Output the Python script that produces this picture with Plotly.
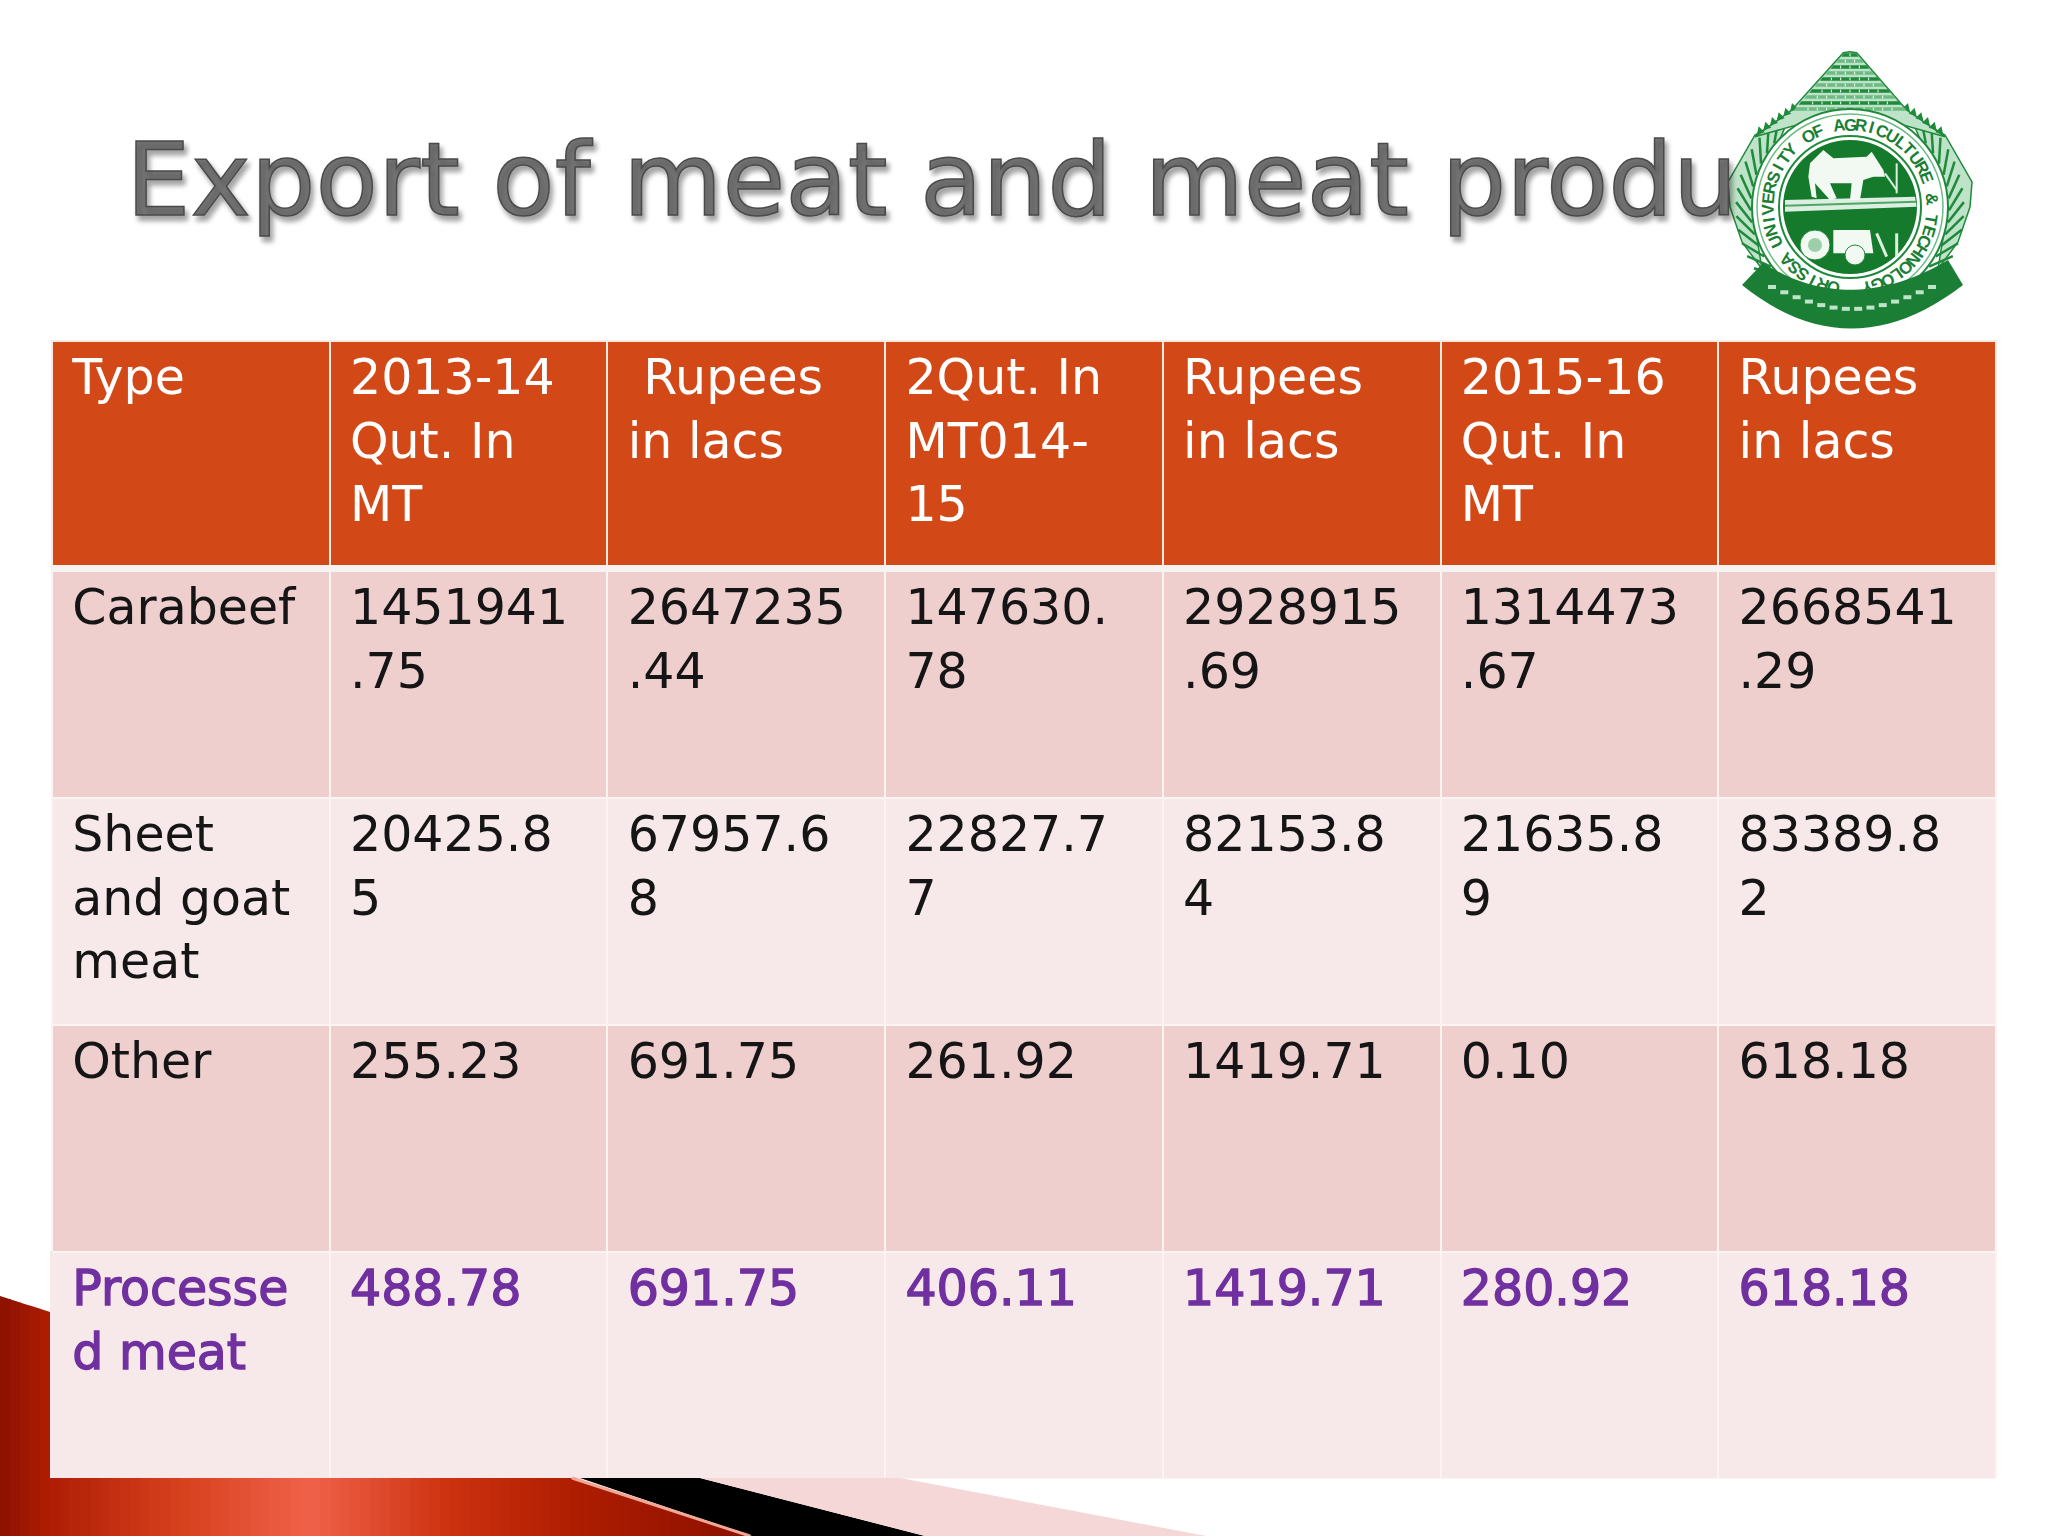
import math
import plotly.graph_objects as go

# ---------- data ----------
title_text = "Export of meat and meat produ"
header_labels = ["Type", "2013-14<br>Qut. In<br>MT", "&nbsp;Rupees<br>in lacs", "2Qut. In<br>MT014-<br>15",
                 "Rupees<br>in lacs", "2015-16<br>Qut. In<br>MT", "Rupees<br>in lacs"]
categories = ["Carabeef", "Sheet<br>and goat<br>meat", "Other", "Processe<br>d meat"]
qty_2013 = ["1451941.75", "20425.85", "255.23", "488.78"]
rs_2013 = ["2647235.44", "67957.68", "691.75", "691.75"]
qty_2014 = ["147630.78", "22827.77", "261.92", "406.11"]
rs_2014 = ["2928915.69", "82153.84", "1419.71", "1419.71"]
qty_2015 = ["1314473.67", "21635.89", "0.10", "280.92"]
rs_2015 = ["2668541.29", "83389.82", "618.18", "618.18"]
logo_ring_text = "ORISSA UNIVERSITY OF AGRICULTURE & TECHNOLOGY"

W, H = 2048, 1536
FONT = "DejaVu Sans"
ORANGE = "#D34817"
BAND1, BAND2 = "#EFCFCE", "#F7E9E9"
PURPLE = "#7030A0"
INK = "#151515"
LG = "#1F8A3B"
LL = "#BFE3C8"


def px(x):
    return x / W


def py(y):
    return 1 - y / H


def poly(pts, fill, line=None, lw=0):
    d = "M" + " L".join(f"{px(x):.5f},{py(y):.5f}" for x, y in pts) + " Z"
    s = dict(type="path", xref="paper", yref="paper", path=d, fillcolor=fill, layer="above",
             line=dict(width=lw, color=line or fill))
    return s


def circle(cx, cy, r, fill="rgba(0,0,0,0)", line=None, lw=0):
    return dict(type="circle", xref="paper", yref="paper", x0=px(cx - r), x1=px(cx + r),
                y0=py(cy + r), y1=py(cy - r), fillcolor=fill, layer="above",
                line=dict(width=lw, color=line or fill))


def seg(x0, y0, x1, y1, color, lw):
    return dict(type="line", xref="paper", yref="paper", x0=px(x0), x1=px(x1), y0=py(y0), y1=py(y1),
                layer="above", line=dict(width=lw, color=color))


def lerp_color(stops, x):
    for (a, ca), (b, cb) in zip(stops, stops[1:]):
        if a <= x <= b:
            t = (x - a) / (b - a)
            return "rgb(%d,%d,%d)" % tuple(ca[i] + (cb[i] - ca[i]) * t for i in range(3))
    return "rgb(%d,%d,%d)" % stops[-1][1]


shapes = []

# ---------- corner decoration ----------
TABLE_BOTTOM = 1478
stops = [(0, (140, 16, 0)), (50, (175, 30, 4)), (180, (215, 65, 30)), (310, (240, 98, 74)),
         (450, (205, 50, 15)), (572, (175, 30, 2)), (750, (140, 16, 0))]


def top_edge(x):
    if x <= 572:
        return TABLE_BOTTOM
    return TABLE_BOTTOM + (x - 572) * 58 / 178


step = 10
for x in range(0, 750, step):
    x1 = min(x + step + 1, 750)
    top0, top1 = top_edge(x), top_edge(x1)
    if x + step <= 50:
        x1 = x + step + (0 if x + step == 50 else 1)
        top0, top1 = 1296 + x / 50 * 16, 1296 + x1 / 50 * 16
    shapes.append(poly([(x, top0), (x1, top1), (x1, H), (x, H)], lerp_color(stops, x + step / 2)))
shapes.append(poly([(580, 1478), (700, 1478), (925, 1536), (752, 1536)], "#000000"))
shapes.append(poly([(700, 1478), (900, 1478), (1206, 1536), (925, 1536)], "#F4D7D6"))
shapes.append(seg(572, 1478, 750, 1536, "#F0A795", 3))

# ---------- table fine details ----------
shapes.append(dict(type="rect", xref="paper", yref="paper", x0=px(52), x1=px(1996), y0=py(572), y1=py(565),
                   fillcolor="#F7F3F2", line=dict(width=0), layer="above"))
shapes.append(dict(type="rect", xref="paper", yref="paper", x0=px(50), x1=px(53), y0=py(1478), y1=py(1251),
                   fillcolor=BAND2, line=dict(width=0), layer="above"))

# ---------- logo (drawn simply from shapes) ----------


def c(x, y):
    return (1700 + x / 3, 30 + y / 3)


CX, CY = 1850, 207
shapes.append(dict(type="rect", xref="paper", yref="paper", x0=px(1728), x1=px(1980), y0=py(340), y1=py(45),
                   fillcolor="#FFFFFF", line=dict(width=0), layer="above"))
# sheaves at both sides
for sgn in (-1, 1):
    shapes.append(poly([(CX + sgn * dx, CY + dy) for dx, dy in
                        [(60, -92), (95, -72), (122, -25), (120, 0), (108, 35), (88, 62), (98, 0)]],
                       LL, LG, 1.5))
    for k in range(15):
        a = math.radians(50 + k * 7)
        shapes.append(seg(CX + sgn * 99 * math.sin(a), CY - 99 * math.cos(a),
                          CX + sgn * 114 * math.sin(a - .2), CY - 114 * math.cos(a - .2), LG, 2.5))
# temple tower with serrated roof
shapes.append(poly([c(450, 65), c(430, 68), c(275, 240), c(165, 320), c(450, 240), c(735, 320), c(620, 240), c(470, 68)],
                   LL, LG, 1.5))
for sgn in (-1, 1):
    for k in range(6):
        x0 = 170 + k * 20
        y0 = 315 - k * 14
        shapes.append(poly([c(450 + sgn * (450 - x0), y0), c(450 + sgn * (450 - x0 - 6), y0 - 26),
                            c(450 + sgn * (450 - x0 - 24), y0 - 8)], LG))
for i in range(10):
    y = 70 + i * 18
    half = 18 + i * 16
    shapes.append(poly([c(450 - half, y), c(450 + half, y), c(450 + half + 8, y + 10), c(450 - half - 8, y + 10)],
                       LG if i % 2 == 0 else "#6CBB84"))
    for k in range(-i, i + 1, 2):
        shapes.append(seg(*c(450 + k * 14, y + 1), *c(450 + k * 14, y + 9), "#FFFFFF", 1))
shapes.append(circle(CX, CY, 98, "#FFFFFF", LG, 2))
shapes.append(circle(CX, CY, 93, "#FFFFFF", "#6CBB84", 1.5))
shapes.append(circle(CX, CY, 71, "#FFFFFF", LG, 2))
shapes.append(circle(CX, CY, 67, "#157A2C"))
# ground bands
shapes.append(poly([c(255, 510), c(645, 500), c(650, 530), c(255, 545)], "#DCEFE0"))
shapes.append(seg(*c(255, 527), *c(648, 515), "#4FA668", 2))
# cow
shapes.append(poly([c(*p) for p in [(330, 400), (370, 360), (400, 385), (500, 380), (515, 365), (550, 420), (555, 440),
                                    (520, 440), (490, 450), (480, 510), (450, 510), (455, 460), (390, 460), (410, 505),
                                    (390, 510), (345, 460), (350, 505), (335, 500), (325, 440)]], "#F2F8F2"))
shapes.append(seg(*c(555, 430), *c(590, 480), "#DCEFE0", 2))
shapes.append(seg(*c(590, 400), *c(590, 490), "#DCEFE0", 2))
# tractor
shapes.append(poly([c(*p) for p in [(400, 600), (510, 600), (520, 670), (400, 670)]], "#F2F8F2"))
shapes.append(circle(*c(345, 645), 15, "#F2F8F2", LG, 1))
shapes.append(circle(*c(345, 645), 7, "#9CCFA8"))
shapes.append(circle(*c(465, 675), 10, "#F2F8F2", LG, 1))
shapes.append(seg(*c(530, 610), *c(560, 680), "#DCEFE0", 3))
shapes.append(seg(*c(590, 610), *c(590, 680), "#DCEFE0", 3))


# ribbon
def quad(a, b, d, n=24):
    return [((1 - t) ** 2 * a[0] + 2 * t * (1 - t) * b[0] + t * t * d[0],
             (1 - t) ** 2 * a[1] + 2 * t * (1 - t) * b[1] + t * t * d[1])
            for t in (i / n for i in range(n + 1))]


shapes.append(poly(quad((1763, 263), (1850, 318), (1948, 260)) + quad((1963, 285), (1850, 372), (1742, 285)), "#1A7F35"))
for i in range(14):
    t = i / 13
    x = 1772 + t * 160
    y = 287 + 22 * math.sin(math.pi * t)
    shapes.append(seg(x - 4, y, x + 4, y, "#BFE3C8", 4))

annotations = []
n = len(logo_ring_text)
for i, ch in enumerate(logo_ring_text):
    if ch == " ":
        continue
    theta = -168 + 336 * i / (n - 1)
    a = math.radians(theta)
    annotations.append(dict(text=f"<b>{ch}</b>", xref="paper", yref="paper", showarrow=False,
                            x=px(CX + 82 * math.sin(a)), y=py(CY - 82 * math.cos(a)),
                            xanchor="center", yanchor="middle", textangle=theta,
                            font=dict(family="Liberation Sans", size=17, color="#1A7F35")))

annotations.append(dict(text=f'<span style="stroke:#4A4A4A;stroke-width:1.5px">{title_text}</span>',
                        xref="paper", yref="paper", showarrow=False,
                        x=px(124), y=py(179), xanchor="left", yanchor="middle",
                        font=dict(family=FONT, size=102, color="#747474",
                                  shadow="3px 5px 5px rgba(0,0,0,0.35)")))


# ---------- table ----------
def wrap_number(s):
    return s if len(s) <= 7 else s[:7] + "<br>" + s[7:]


def pad(s, style=None):
    lines = s.split("<br>")
    if len(lines) == 1:
        lines.append("")  # keep every cell on the same multi-line text baseline
    out = ["\u2005" + ln for ln in lines]
    if style:
        out = [f'<span style="{style}">{ln}</span>' for ln in out]
    return "<br>".join(out)


BOLDISH = f"stroke:{PURPLE};stroke-width:1.4px"


def cell_col(col, wrap=True):
    res = []
    for i, v in enumerate(col):
        txt = wrap_number(v) if wrap else v
        res.append(pad(txt, BOLDISH if i == 3 else None))
    return res


columns = [cell_col(categories, False)] + [cell_col(col) for col in
                                           (qty_2013, rs_2013, qty_2014, rs_2014, qty_2015, rs_2015)]
row_fill = [BAND1, BAND2, BAND1, BAND2]
row_color = [INK, INK, INK, PURPLE]

table = go.Table(
    domain=dict(x=[52 / W, 1996 / W], y=[1 - 1479 / H, 1 - 341 / H]),
    columnwidth=[1] * 7,
    header=dict(values=[pad(h) for h in header_labels], height=230, align="left",
                fill_color=ORANGE, line=dict(color="#FBE9E2", width=2),
                font=dict(family=FONT, size=49, color="#FFFFFF")),
    cells=dict(values=columns, height=227, align="left",
               fill_color=[row_fill] * 7, line=dict(color="#FBF4F3", width=2),
               font=dict(family=FONT, size=49, color=[row_color] * 7)),
)

fig = go.Figure(table)
fig.update_layout(width=W, height=H, margin=dict(l=0, r=0, t=0, b=0), paper_bgcolor="#FFFFFF",
                  plot_bgcolor="#FFFFFF", shapes=shapes, annotations=annotations, showlegend=False)
fig.write_html("out.html", config=dict(displayModeBar=False),
               post_script="document.body.style.margin='0';document.body.style.background='#fff';")
